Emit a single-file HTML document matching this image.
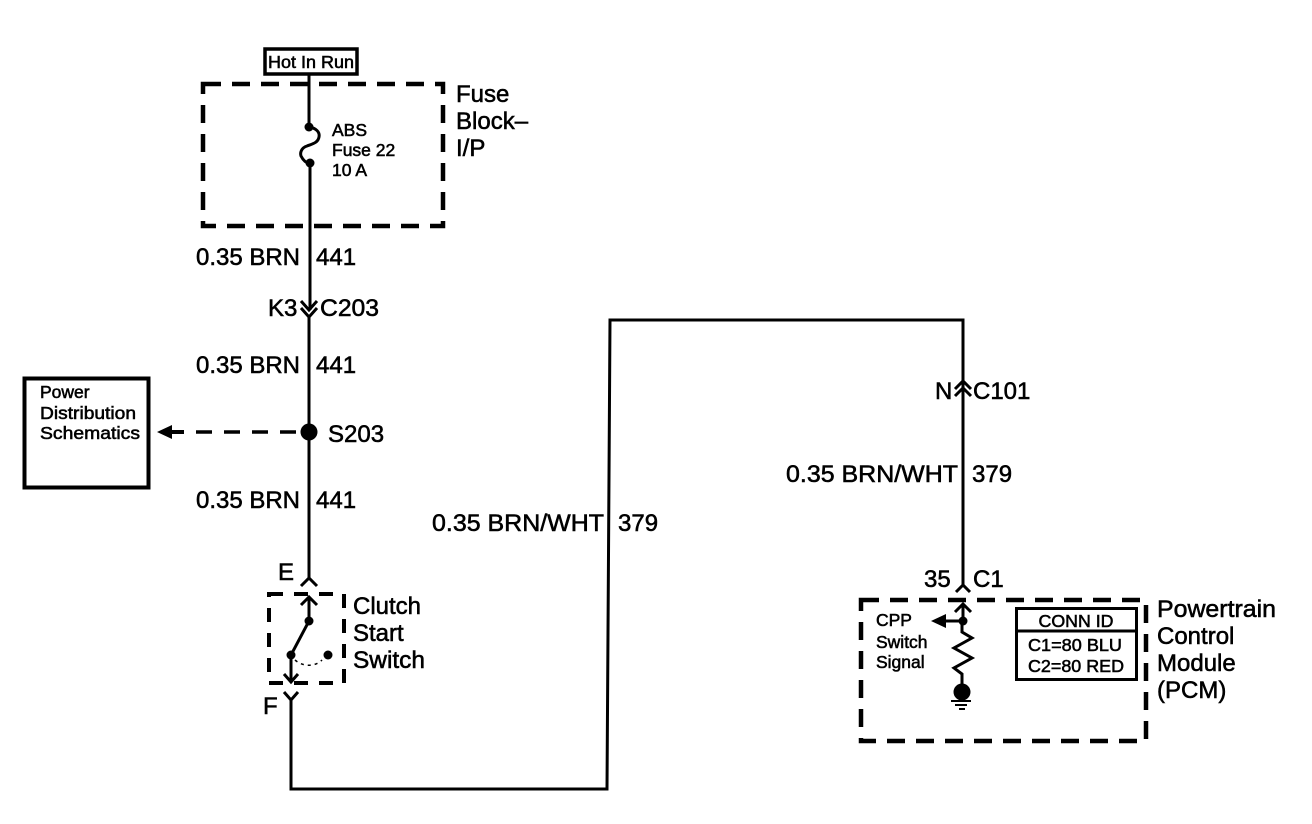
<!DOCTYPE html>
<html>
<head>
<meta charset="utf-8">
<style>
html,body{margin:0;padding:0;background:#fff}
svg{display:block}
text{font-family:"Liberation Sans",sans-serif;fill:#000}
.l{font-size:24px;stroke:#000;stroke-width:.55px}
.s{font-size:17.5px;stroke:#000;stroke-width:.55px}
.w{fill:none;stroke:#000;stroke-width:3}
.d{fill:none;stroke:#000;stroke-width:4.500;stroke-dasharray:18 11}
</style>
</head>
<body>
<svg width="1312" height="824" viewBox="0 0 1312 824" xmlns="http://www.w3.org/2000/svg">
<rect width="1312" height="824" fill="#fff"/>

<!-- Hot In Run -->
<rect x="265" y="49" width="92" height="25" fill="none" stroke="#000" stroke-width="3.500"/>
<text class="s" x="268" y="68" textLength="86" lengthAdjust="spacingAndGlyphs">Hot In Run</text>

<!-- Fuse block -->
<rect class="d" x="203" y="84" width="240" height="142"/>
<text class="l" x="456" y="102">Fuse</text>
<text class="l" x="456" y="129">Block–</text>
<text class="l" x="456" y="156">I/P</text>
<path class="w" d="M309 74V127"/>
<circle cx="309" cy="127" r="4.500"/>
<path class="w" d="M309 127C316 128 320 132 319 137C318 143 312 144 307 146C301 148 300 153 301 156C303 160 306 163 310 164"/>
<circle cx="310" cy="163" r="4.500"/>
<text class="s" x="332" y="136">ABS</text>
<text class="s" x="332" y="156">Fuse 22</text>
<text class="s" x="332" y="176">10 A</text>

<!-- Left vertical wire -->
<path class="w" d="M310 163V310"/>
<path class="w" d="M301 301L309 310L317 301M301 308L309 317L317 308"/>
<path class="w" d="M309 317V578"/>
<path class="w" d="M301 586L309 578L317 586"/>

<text class="l" x="196" y="265" textLength="104" lengthAdjust="spacingAndGlyphs">0.35 BRN</text>
<text class="l" x="316" y="265">441</text>
<text class="l" x="268" y="316">K3</text>
<text class="l" x="320" y="316" textLength="59" lengthAdjust="spacingAndGlyphs">C203</text>
<text class="l" x="196" y="373" textLength="104" lengthAdjust="spacingAndGlyphs">0.35 BRN</text>
<text class="l" x="316" y="373">441</text>
<text class="l" x="196" y="508" textLength="104" lengthAdjust="spacingAndGlyphs">0.35 BRN</text>
<text class="l" x="316" y="508">441</text>

<!-- Power distribution -->
<rect x="24.500" y="378.500" width="124" height="109" fill="none" stroke="#000" stroke-width="4"/>
<text class="s" x="40" y="398">Power</text>
<text class="s" x="40" y="419" textLength="96" lengthAdjust="spacingAndGlyphs">Distribution</text>
<text class="s" x="40" y="439" textLength="100" lengthAdjust="spacingAndGlyphs">Schematics</text>
<path d="M157 432L172 425V430L184 430V434L172 434V439Z"/>
<path d="M196 432H300" fill="none" stroke="#000" stroke-width="3.500" stroke-dasharray="16 12"/>
<circle cx="309" cy="432" r="8.500"/>
<text class="l" x="328" y="442">S203</text>

<!-- Clutch switch -->
<text class="l" x="278" y="580">E</text>
<rect x="269" y="594" width="75" height="89" fill="none" stroke="#000" stroke-width="4" stroke-dasharray="14 11"/>
<path class="w" d="M301 605L309 597L317 605M309 597V621L291 655V682"/>
<circle cx="309" cy="621" r="4.500"/>
<circle cx="291" cy="655" r="4.500"/>
<circle cx="328" cy="655" r="4.500"/>
<path class="w" d="M284 674L291 682L298 674"/>
<path d="M295 660C303 667 315 667 322 660" fill="none" stroke="#000" stroke-width="1.500" stroke-dasharray="3 4"/>
<text class="l" x="353" y="614">Clutch</text>
<text class="l" x="353" y="641">Start</text>
<text class="l" x="353" y="668" textLength="72" lengthAdjust="spacingAndGlyphs">Switch</text>
<text class="l" x="263" y="714">F</text>
<path class="w" d="M284 692L291 700L298 692"/>

<!-- Long wire -->
<path class="w" d="M291 700V789H607L610 320H963V578"/>
<text class="l" x="432" y="531" textLength="172" lengthAdjust="spacingAndGlyphs">0.35 BRN/WHT</text>
<text class="l" x="618" y="531">379</text>

<path class="w" d="M955 389L963 381L971 389M955 396L963 388L971 396"/>
<text class="l" x="935" y="399">N</text>
<text class="l" x="973" y="399">C101</text>
<text class="l" x="786" y="482" textLength="172" lengthAdjust="spacingAndGlyphs">0.35 BRN/WHT</text>
<text class="l" x="972" y="482">379</text>

<!-- PCM -->
<path class="w" d="M963 578V585M956 592L963 585L970 592"/>
<text class="l" x="924" y="587">35</text>
<text class="l" x="973" y="587">C1</text>
<rect class="d" x="861" y="600" width="285" height="141"/>
<text class="l" x="1157" y="617" textLength="119" lengthAdjust="spacingAndGlyphs">Powertrain</text>
<text class="l" x="1157" y="644">Control</text>
<text class="l" x="1157" y="671">Module</text>
<text class="l" x="1157" y="698">(PCM)</text>

<path class="w" d="M955 612L963 604L971 612M963 604V621"/>
<circle cx="963" cy="621" r="4.500"/>
<path d="M931 621L946 614V628Z"/>
<path class="w" d="M944 621H963"/>
<path class="w" d="M962 621V632L972 638L954 648L972 658L954 668L962 674V690"/>
<circle cx="962" cy="692" r="8.500"/>
<path d="M951 701H971M955 705H967M959 709H965" stroke="#000" stroke-width="2" fill="none"/>
<text class="s" x="876" y="626">CPP</text>
<text class="s" x="876" y="648">Switch</text>
<text class="s" x="876" y="668">Signal</text>

<rect x="1016.500" y="608.500" width="120" height="71" fill="none" stroke="#000" stroke-width="3"/>
<path d="M1016 631H1137" stroke="#000" stroke-width="3"/>
<text class="s" x="1076" y="627" text-anchor="middle" textLength="75" lengthAdjust="spacingAndGlyphs">CONN ID</text>
<text class="s" x="1028" y="651" textLength="94" lengthAdjust="spacingAndGlyphs">C1=80 BLU</text>
<text class="s" x="1028" y="672" textLength="96" lengthAdjust="spacingAndGlyphs">C2=80 RED</text>
</svg>
</body>
</html>
